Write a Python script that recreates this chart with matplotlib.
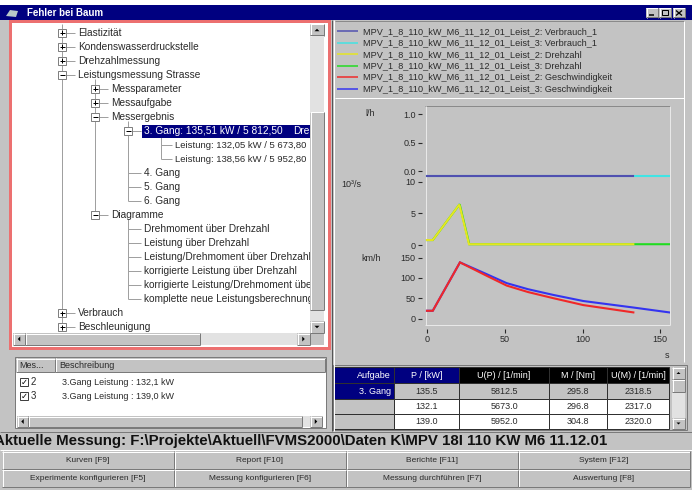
import matplotlib
matplotlib.use('Agg')
import matplotlib.pyplot as plt
from matplotlib.patches import Rectangle, Polygon

plt.rcParams['font.family'] = ['Liberation Sans', 'DejaVu Sans']

W, H = 692, 490
PX = 0.72          # one screen pixel in points (dpi 100)
GRAY = '#c3c3c3'
LIGHT = '#e2e2e2'
NAVY = '#000080'
TXT = '#2a2a2a'

# ---------------- data ----------------
title = 'Fehler bei Baum'

# tree view rows: level, expand box ('+' / '-' / '' = leaf), text
tree_levels = [0, 0, 0, 0, 1, 1, 1, 2, 3, 3, 2, 2, 2, 1, 2, 2, 2, 2, 2, 2, 0, 0]
tree_boxes = ['+', '+', '+', '-', '+', '+', '-', '-', '', '', '', '', '', '-',
              '', '', '', '', '', '', '+', '+']
tree_labels = ['Elastizität', 'Kondenswasserdruckstelle', 'Drehzahlmessung',
               'Leistungsmessung Strasse', 'Messparameter', 'Messaufgabe',
               'Messergebnis', '3. Gang: 135,51 kW / 5 812,50',
               'Leistung: 132,05 kW / 5 673,80', 'Leistung: 138,56 kW / 5 952,80',
               '4. Gang', '5. Gang', '6. Gang', 'Diagramme',
               'Drehmoment über Drehzahl', 'Leistung über Drehzahl',
               'Leistung/Drehmoment über Drehzahl',
               'korrigierte Leistung über Drehzahl',
               'korrigierte Leistung/Drehmoment über Drehzahl',
               'komplette neue Leistungsberechnung', 'Verbrauch', 'Beschleunigung']
tree_selected = 7
selected_tail = 'Drehzahl'

legend_labels = ['MPV_1_8_110_kW_M6_11_12_01_Leist_2: Verbrauch_1',
                 'MPV_1_8_110_kW_M6_11_12_01_Leist_3: Verbrauch_1',
                 'MPV_1_8_110_kW_M6_11_12_01_Leist_2: Drehzahl',
                 'MPV_1_8_110_kW_M6_11_12_01_Leist_3: Drehzahl',
                 'MPV_1_8_110_kW_M6_11_12_01_Leist_2: Geschwindigkeit',
                 'MPV_1_8_110_kW_M6_11_12_01_Leist_3: Geschwindigkeit']
legend_colors = ['#5050b0', '#40e4e4', '#e6e620', '#20dc20', '#f02828', '#3434f0']

# Verbrauch [l/h]
verb2_t = [0, 132.7]
verb2_v = [-0.09, -0.09]
verb3_t = [0, 155.8]
verb3_v = [-0.09, -0.09]
# Drehzahl [10^3 1/min]
dreh2_t = [0, 3.7, 20.8, 27.0, 132.7]
dreh2_v = [0.85, 0.85, 6.4, 0.2, 0.2]
dreh3_t = [0, 3.7, 21.0, 27.2, 155.8]
dreh3_v = [0.85, 0.85, 6.45, 0.2, 0.2]
# Geschwindigkeit [km/h]
gesch2_t = [0, 3.7, 21.2, 38.4, 51.2, 65, 81.2, 100.5, 132.7]
gesch2_v = [19, 19, 138, 105, 81, 65, 50, 33, 15]
gesch3_t = [0, 3.7, 21.2, 38.4, 51.2, 65, 81.2, 100.5, 132.7, 155.8]
gesch3_v = [19, 19, 138, 109, 87, 72, 58, 43, 27, 15]

units = ['l/h', '10³/s', 'km/h']
yticks = [[0, 0.5, 1.0], [0, 5, 10], [0, 50, 100, 150]]
yticklabels = [['0.0', '0.5', '1.0'], ['0', '5', '10'], ['0', '50', '100', '150']]
xticks = [0, 50, 100, 150]
xunit = 's'

list_head = ['Mes...', 'Beschreibung']
list_nums = ['2', '3']
list_desc = ['3.Gang Leistung : 132,1 kW', '3.Gang Leistung : 139,0 kW']

table_head = ['Aufgabe', 'P / [kW]', 'U(P) / [1/min]', 'M / [Nm]', 'U(M) / [1/min]']
table_task = ['3. Gang', '', '']
table_p = [135.5, 132.1, 139.0]
table_up = [5812.5, 5673.0, 5952.0]
table_m = [295.8, 296.8, 304.8]
table_um = [2318.5, 2317.0, 2320.0]

status = 'Aktuelle Messung: F:\\Projekte\\Aktuell\\FVMS2000\\Daten K\\MPV 18I 110 KW M6 11.12.01'
buttons = [['Kurven [F9]', 'Report [F10]', 'Berichte [F11]', 'System [F12]'],
           ['Experimente konfigurieren [F5]', 'Messung konfigurieren [F6]',
            'Messung durchführen [F7]', 'Auswertung [F8]']]

# ---------------- figure, background axes in screen pixels ----------------
fig = plt.figure(figsize=(W / 100, H / 100), dpi=100)
fig.patch.set_facecolor(GRAY)
bg = fig.add_axes([0, 0, 1, 1])
bg.set_xlim(0, W)
bg.set_ylim(H, 0)
bg.axis('off')


def rect(x0, y0, x1, y1, fc, ec='none', lw=0, z=1):
    r = Rectangle((x0, y0), x1 - x0, y1 - y0, facecolor=fc, edgecolor=ec,
                  linewidth=lw * PX, zorder=z)
    bg.add_patch(r)
    return r


def line(xs, ys, c, lw=1, z=3):
    bg.plot(xs, ys, color=c, lw=lw * PX, zorder=z, solid_capstyle='butt')


def bevel(x0, y0, x1, y1, sunken=False, fc=GRAY, z=2):
    hi, lo = ('white', '#7a7a7a') if not sunken else ('#7a7a7a', 'white')
    rect(x0, y0, x1, y1, fc, z=z)
    line([x0, x1], [y0 + .5, y0 + .5], hi, z=z + .1)
    line([x0 + .5, x0 + .5], [y0, y1], hi, z=z + .1)
    line([x0, x1], [y1 - .5, y1 - .5], lo, z=z + .1)
    line([x1 - .5, x1 - .5], [y0, y1], lo, z=z + .1)


def arrow(cx, cy, d, s=2.5, z=4):
    pts = {'up': [(cx - s, cy + s / 2), (cx + s, cy + s / 2), (cx, cy - s / 2)],
           'down': [(cx - s, cy - s / 2), (cx + s, cy - s / 2), (cx, cy + s / 2)],
           'left': [(cx + s / 2, cy - s), (cx + s / 2, cy + s), (cx - s / 2, cy)],
           'right': [(cx - s / 2, cy - s), (cx - s / 2, cy + s), (cx + s / 2, cy)]}[d]
    bg.add_patch(Polygon(pts, closed=True, fc='black', ec='none', zorder=z))


# title bar
rect(0, 0, W, 5, 'white')
rect(0, 5, W, 20, NAVY)
bg.add_patch(Polygon([(6, 16), (10, 10), (18, 11), (16, 17)], closed=True,
                     fc='#b8c8c8', ec='none', zorder=3))
bg.text(27, 12.5, title, color='white', fontsize=7, fontweight='bold', va='center', zorder=4)
for bx in [646, 659, 673]:
    bevel(bx, 8, bx + 12, 18, z=4)
line([649, 654], [15.5, 15.5], 'black', lw=1.5, z=5)
bg.add_patch(Rectangle((662, 10.5), 6, 5, fc='none', ec='black', lw=PX, zorder=5))
line([676, 682], [10.5, 15.5], 'black', lw=1.3, z=5)
line([676, 682], [15.5, 10.5], 'black', lw=1.3, z=5)

# ---------------- tree view ----------------
rect(10, 21, 329, 348, 'white', ec='#ec7070', lw=3)
tree_clip = Rectangle((13, 24), 297, 309, transform=bg.transData)


def tx(level):
    return 62 + 33 * level


row_y = [33 + 14 * i for i in range(len(tree_labels))]
root_rows = [i for i, lv in enumerate(tree_levels) if lv == 0]
line([tx(0), tx(0)], [24, row_y[root_rows[-1]]], '#a0a0a0', z=2)
for i, lv in enumerate(tree_levels):
    y = row_y[i]
    if tree_boxes[i] == '-':
        kids = []
        for j in range(i + 1, len(tree_levels)):
            if tree_levels[j] <= lv:
                break
            if tree_levels[j] == lv + 1:
                kids.append(j)
        if kids:
            line([tx(lv + 1), tx(lv + 1)], [y + 4, row_y[kids[-1]]], '#a0a0a0', z=2)
    # deepest rows sit a little closer to their line, with a smaller font
    off, fs = (14, 6.8) if lv == 3 else (16, 7.3)
    line([tx(lv), tx(lv) + off - 3], [y, y], '#a0a0a0', z=2)
    if tree_boxes[i]:
        rect(tx(lv) - 4, y - 4, tx(lv) + 4, y + 4, 'white', ec='#808080', lw=1, z=3)
        line([tx(lv) - 2.5, tx(lv) + 2.5], [y, y], 'black', z=4)
        if tree_boxes[i] == '+':
            line([tx(lv), tx(lv)], [y - 2.5, y + 2.5], 'black', z=4)
    col = TXT
    if i == tree_selected:
        rect(tx(lv) + 14, y - 6.5, 310, y + 6.5, NAVY, z=3)
        col = 'white'
        t = bg.text(293, y, selected_tail, fontsize=fs, color='white', va='center',
                    zorder=4, clip_on=True)
        t.set_clip_path(tree_clip)
    t = bg.text(tx(lv) + off, y, tree_labels[i], fontsize=fs, color=col, va='center',
                zorder=4, clip_on=True)
    t.set_clip_path(tree_clip)

# scroll bars of the tree
bevel(310, 24, 324, 36)
arrow(317, 30, 'up')
rect(310, 36, 324, 112, LIGHT)
bevel(310, 112, 324, 310)
rect(310, 310, 324, 321, LIGHT)
bevel(310, 321, 324, 333)
arrow(317, 327, 'down')
bevel(13, 333, 25, 345)
arrow(19, 339, 'left')
bevel(25, 333, 200, 345)
rect(200, 333, 297, 345, LIGHT)
bevel(297, 333, 310, 345)
arrow(303.5, 339, 'right')
rect(310, 333, 324, 345, GRAY, z=2)

# ---------------- list of measurements ----------------
rect(15, 357, 326, 428, 'white', ec='#7a7a7a', lw=1)
bevel(16, 358, 55, 372)
bevel(55, 358, 325, 372)
bg.text(19, 365, list_head[0], fontsize=6.5, color=TXT, va='center', zorder=4)
bg.text(59, 365, list_head[1], fontsize=6.5, color=TXT, va='center', zorder=4)
for k in range(len(list_nums)):
    y = 382 + 14 * k
    rect(20, y - 4, 28, y + 4, 'white', ec='#404040', lw=1, z=3)
    bg.text(24, y, '✓', fontsize=6, color='black', ha='center', va='center', zorder=4,
            family='DejaVu Sans')
    bg.text(31, y, list_nums[k], fontsize=7, color=TXT, va='center', zorder=4)
    bg.text(62, y, list_desc[k], fontsize=6.5, color=TXT, va='center', zorder=4)
bevel(17, 416, 28, 427)
arrow(22.5, 421.5, 'left')
bevel(28, 416, 302, 427)
rect(302, 416, 310, 427, LIGHT)
bevel(310, 416, 322, 427)
arrow(316, 421.5, 'right')

# ---------------- right side: legend ----------------
line([331.5, 331.5], [20, 431], '#555555')
line([333.5, 333.5], [20, 431], 'white')
rect(335, 21, 684, 99, GRAY)
line([335, 684], [21.5, 21.5], '#8a8a8a')
line([335, 684], [98.5, 98.5], 'white')
line([683.5, 683.5], [21, 362], 'white')
for k, (lab, c) in enumerate(zip(legend_labels, legend_colors)):
    y = 31.5 + 11.5 * k
    line([337, 358], [y, y], c, lw=1.5)
    bg.text(363, y, lab, fontsize=6.6, color=TXT, va='center', zorder=4)

# chart frame
CX0, CX1, CY0, CY1 = 425, 670, 106, 325
line([CX0, CX1], [CY0 + .5, CY0 + .5], '#8a8a8a')
line([CX0 + .5, CX0 + .5], [CY0, CY1], '#e8e8e8')
line([CX1 - .5, CX1 - .5], [CY0, CY1], '#e8e8e8')
line([CX0, CX1], [CY1 - .5, CY1 - .5], '#e8e8e8')
bg.text(365, 113, units[0], fontsize=6.5, color=TXT, va='center', zorder=4)
bg.text(341, 184, units[1], fontsize=6.5, color=TXT, va='center', zorder=4)
bg.text(361, 258, units[2], fontsize=6.5, color=TXT, va='center', zorder=4)
bg.text(667, 355, xunit, fontsize=6.5, color=TXT, ha='center', va='center', zorder=4)

# x scale: 0 s at pixel 427, 1.555 px per s
x_zero, px_per_s = 427, 1.555
xlim = ((CX0 - x_zero) / px_per_s, (CX1 - x_zero) / px_per_s)

# bands: (band top, band bottom, top tick value, its pixel, bottom tick value, its pixel)
bands = [(106, 178, 1.0, 114, 0.0, 171),
         (178, 250, 10, 181.5, 0, 245.5),
         (250, 325, 150, 257.5, 0, 318.5)]
series = [[(verb3_t, verb3_v, legend_colors[1]), (verb2_t, verb2_v, legend_colors[0])],
          [(dreh3_t, dreh3_v, legend_colors[3]), (dreh2_t, dreh2_v, legend_colors[2])],
          [(gesch3_t, gesch3_v, legend_colors[5]), (gesch2_t, gesch2_v, legend_colors[4])]]

for p, (b0, b1, vt, pt, vb, pb) in enumerate(bands):
    ax = fig.add_axes([CX0 / W, 1 - b1 / H, (CX1 - CX0) / W, (b1 - b0) / H])
    ax.set_facecolor('none')
    k = (vt - vb) / (pb - pt)
    ax.set_ylim(vb - (b1 - pb) * k, vt + (pt - b0) * k)
    ax.set_xlim(*xlim)
    for t, v, c in series[p]:
        ax.plot(t, v, color=c, lw=1.5, solid_joinstyle='miter')
    for s in ax.spines.values():
        s.set_visible(False)
    ax.spines['left'].set_position(('outward', 2.2))
    ax.set_yticks(yticks[p])
    ax.set_yticklabels(yticklabels[p])
    ax.tick_params(axis='y', labelsize=6.5, labelcolor=TXT, color=TXT, length=3,
                   width=0.8, pad=1.5)
    if p == 2:
        ax.spines['bottom'].set_position(('outward', 3))
        ax.set_xticks(xticks)
        ax.tick_params(axis='x', labelsize=6.5, labelcolor=TXT, color=TXT, length=3,
                       width=0.8, pad=1.5)
    else:
        ax.set_xticks([])

# ---------------- result table ----------------
cols = [334, 394, 459, 549, 607, 669]
rows = [367, 383, 399, 414, 429]
rect(333, 365, 687, 430, GRAY, ec='#7a7a7a', lw=1)
head_fc = [NAVY, NAVY, 'black', 'black', 'black']
cells = [table_task,
         ['%.1f' % v for v in table_p],
         ['%.1f' % v for v in table_up],
         ['%.1f' % v for v in table_m],
         ['%.1f' % v for v in table_um]]
for c in range(5):
    x0, x1 = cols[c], cols[c + 1]
    r = rect(x0, rows[0], x1, rows[1], head_fc[c], ec='#303030', lw=1, z=2)
    ha, xt = ('right', x1 - 3) if c == 0 else ('center', (x0 + x1) / 2)
    t = bg.text(xt, (rows[0] + rows[1]) / 2, table_head[c], fontsize=6.5, color='white',
                ha=ha, va='center', zorder=4, clip_on=True)
    t.set_clip_path(r)
    for rr in range(3):
        y0, y1 = rows[rr + 1], rows[rr + 2]
        if c == 0:
            fc = NAVY if rr == 0 else GRAY
        else:
            fc = GRAY if rr == 0 else 'white'
        rect(x0, y0, x1, y1, fc, ec='#303030', lw=1, z=2)
        col = 'white' if (c == 0 and rr == 0) else TXT
        bg.text(xt, (y0 + y1) / 2, cells[c][rr], fontsize=6.5, color=col, ha=ha,
                va='center', zorder=4)
bevel(672, 367, 685, 379)
arrow(678.5, 373, 'up', s=2)
bevel(672, 379, 685, 392)
rect(672, 392, 685, 418, LIGHT)
bevel(672, 418, 685, 429)
arrow(678.5, 423.5, 'down', s=2)

# ---------------- status line and buttons ----------------
line([0, W], [431.5, 431.5], '#7a7a7a')
line([0, W], [449.5, 449.5], 'white')
bg.text(-6, 441, status, fontsize=10.8, fontweight='bold', color='#111111',
        va='center', zorder=4)
bw = (W - 4) / 4
for r, labels in enumerate(buttons):
    for c, lab in enumerate(labels):
        x0 = 2 + bw * c
        y0 = 451 + 18 * r
        bevel(x0, y0, x0 + bw, y0 + 18)
        bg.text(x0 + bw / 2, y0 + 9, lab, fontsize=6, color=TXT, ha='center',
                va='center', zorder=4)

fig.savefig('out.png', dpi=100, facecolor=fig.get_facecolor())
